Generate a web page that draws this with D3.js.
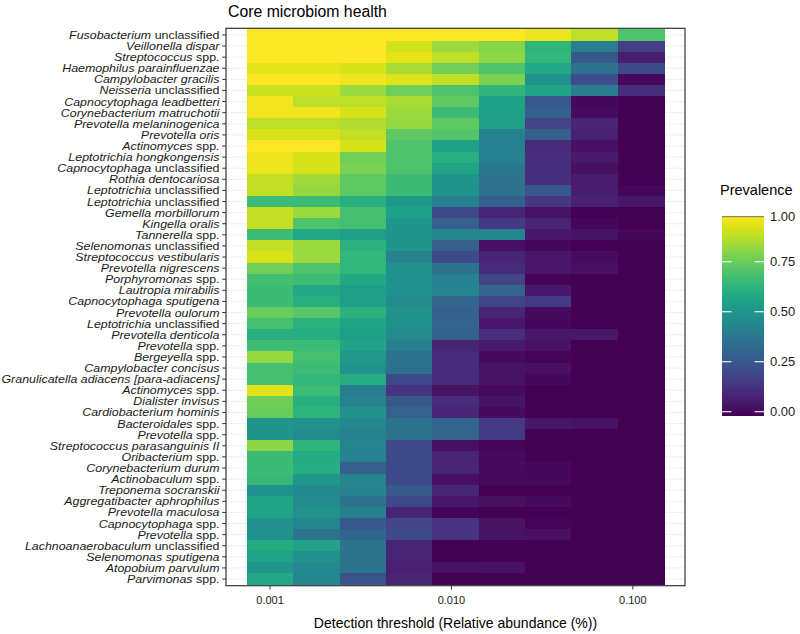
<!DOCTYPE html>
<html><head><meta charset="utf-8">
<script src="https://cdn.jsdelivr.net/npm/d3@7"></script>
<style>body{margin:0;background:#fff;} svg{display:block;font-family:"Liberation Sans",Arial,Helvetica,sans-serif;}</style>
</head><body><svg id="chart" width="800" height="634"></svg>
<script>
// Taxa (top to bottom); *...* marks italic text
const taxa = [
"*Fusobacterium* unclassified","*Veillonella dispar*","*Streptococcus* spp.","*Haemophilus parainfluenzae*",
"*Campylobacter gracilis*","*Neisseria* unclassified","*Capnocytophaga leadbetteri*","*Corynebacterium matruchotii*",
"*Prevotella melaninogenica*","*Prevotella oris*","*Actinomyces* spp.","*Leptotrichia hongkongensis*",
"*Capnocytophaga* unclassified","*Rothia dentocariosa*","*Leptotrichia* unclassified","*Leptotrichia* unclassified",
"*Gemella morbillorum*","*Kingella oralis*","*Tannerella* spp.","*Selenomonas* unclassified",
"*Streptococcus vestibularis*","*Prevotella nigrescens*","*Porphyromonas* spp.","*Lautropia mirabilis*",
"*Capnocytophaga sputigena*","*Prevotella oulorum*","*Leptotrichia* unclassified","*Prevotella denticola*",
"*Prevotella* spp.","*Bergeyella* spp.","*Campylobacter concisus*","*Granulicatella adiacens [para-adiacens]*",
"*Actinomyces* spp.","*Dialister invisus*","*Cardiobacterium hominis*","*Bacteroidales* spp.",
"*Prevotella* spp.","*Streptococcus parasanguinis II*","*Oribacterium* spp.","*Corynebacterium durum*",
"*Actinobaculum* spp.","*Treponema socranskii*","*Aggregatibacter aphrophilus*","*Prevotella maculosa*",
"*Capnocytophaga* spp.","*Prevotella* spp.","*Lachnoanaerobaculum* unclassified","*Selenomonas sputigena*",
"*Atopobium parvulum*","*Parvimonas* spp."
];

// Detection thresholds (relative abundance, %)
const detections = [0.00100, 0.00180, 0.00325, 0.00585, 0.01053, 0.01897, 0.03417, 0.06155, 0.11085];
const xTicks = [0.001, 0.01, 0.1];
const xTickLabels = ["0.001", "0.010", "0.100"];
const legendBreaks = [0, 0.25, 0.5, 0.75, 1];
const legendLabels = ["0.00", "0.25", "0.50", "0.75", "1.00"];

// Prevalence per detection threshold (one value per taxon, same order as taxa)
const prev_d1 = [1.00,1.00,1.00,0.96,1.00,0.92,0.98,0.98,0.90,0.94,1.00,0.97,0.97,0.91,0.91,0.68,0.91,0.91,0.69,0.91,0.94,0.78,0.70,0.68,0.68,0.77,0.70,0.63,0.69,0.84,0.70,0.70,0.95,0.78,0.77,0.52,0.52,0.83,0.68,0.68,0.67,0.51,0.58,0.58,0.51,0.51,0.61,0.58,0.52,0.60];
const prev_d2 = [1.00,1.00,1.00,0.96,1.00,0.92,0.90,0.98,0.90,0.94,1.00,0.94,0.94,0.86,0.84,0.68,0.85,0.72,0.60,0.85,0.85,0.72,0.69,0.60,0.63,0.74,0.64,0.62,0.68,0.70,0.68,0.66,0.68,0.63,0.65,0.50,0.48,0.65,0.61,0.62,0.53,0.47,0.48,0.50,0.46,0.38,0.58,0.51,0.47,0.46];
const prev_d3 = [1.00,1.00,1.00,0.94,0.98,0.85,0.90,0.94,0.88,0.91,0.94,0.78,0.80,0.75,0.75,0.63,0.70,0.70,0.56,0.64,0.66,0.66,0.60,0.56,0.56,0.64,0.58,0.56,0.58,0.53,0.51,0.62,0.42,0.44,0.50,0.46,0.44,0.45,0.44,0.30,0.45,0.44,0.38,0.43,0.28,0.32,0.38,0.38,0.38,0.25];
const prev_d4 = [1.00,0.93,0.96,0.87,0.95,0.78,0.87,0.85,0.84,0.75,0.72,0.72,0.72,0.68,0.68,0.53,0.57,0.52,0.52,0.52,0.44,0.50,0.50,0.50,0.48,0.50,0.50,0.48,0.43,0.38,0.37,0.22,0.15,0.27,0.31,0.38,0.38,0.22,0.22,0.22,0.22,0.27,0.22,0.10,0.21,0.22,0.10,0.10,0.09,0.10];
const prev_d5 = [1.00,0.85,0.90,0.78,0.91,0.72,0.75,0.68,0.75,0.73,0.56,0.63,0.58,0.52,0.51,0.43,0.22,0.30,0.45,0.30,0.22,0.38,0.44,0.45,0.32,0.30,0.32,0.30,0.10,0.12,0.12,0.12,0.05,0.12,0.10,0.32,0.32,0.04,0.10,0.10,0.04,0.10,0.06,0.01,0.15,0.15,0.00,0.00,0.05,0.00];
const prev_d6 = [1.00,0.82,0.83,0.72,0.80,0.65,0.57,0.56,0.56,0.43,0.43,0.43,0.40,0.38,0.37,0.30,0.10,0.17,0.45,0.04,0.10,0.12,0.20,0.32,0.20,0.10,0.06,0.13,0.07,0.03,0.05,0.05,0.03,0.05,0.03,0.17,0.17,0.01,0.02,0.03,0.02,0.00,0.04,0.00,0.05,0.05,0.00,0.00,0.04,0.00];
const prev_d7 = [0.97,0.65,0.66,0.60,0.50,0.58,0.27,0.30,0.20,0.30,0.12,0.13,0.13,0.13,0.27,0.16,0.05,0.10,0.06,0.02,0.06,0.06,0.01,0.06,0.17,0.03,0.02,0.06,0.05,0.01,0.04,0.02,0.00,0.00,0.00,0.06,0.00,0.00,0.00,0.02,0.02,0.00,0.03,0.00,0.01,0.04,0.00,0.00,0.00,0.00];
const prev_d8 = [0.90,0.42,0.27,0.37,0.23,0.42,0.02,0.03,0.10,0.09,0.04,0.07,0.04,0.08,0.08,0.09,0.00,0.02,0.05,0.00,0.03,0.04,0.00,0.00,0.00,0.00,0.00,0.06,0.00,0.00,0.00,0.00,0.00,0.00,0.00,0.05,0.00,0.00,0.00,0.00,0.00,0.00,0.00,0.00,0.00,0.00,0.00,0.00,0.00,0.00];
const prev_d9 = [0.72,0.18,0.08,0.22,0.02,0.13,0.00,0.00,0.00,0.00,0.00,0.00,0.00,0.00,0.02,0.06,0.00,0.00,0.02,0.00,0.00,0.00,0.00,0.00,0.00,0.00,0.00,0.00,0.00,0.00,0.00,0.00,0.00,0.00,0.00,0.00,0.00,0.00,0.00,0.00,0.00,0.00,0.00,0.00,0.00,0.00,0.00,0.00,0.00,0.00];
const prevalenceByDetection = [prev_d1, prev_d2, prev_d3, prev_d4, prev_d5, prev_d6, prev_d7, prev_d8, prev_d9];

const cells = [];
detections.forEach((d, j) => {
  prevalenceByDetection[j].forEach((v, i) => cells.push({row: i, col: j, det: d, value: v}));
});

const svg = d3.select("#chart");
const panel = {left: 226, right: 685, top: 28.3, bottom: 585.7};

// tile extents in log space (geometric midpoints between thresholds)
const logD = detections.map(Math.log10);
const halfStep = (logD[logD.length - 1] - logD[0]) / (logD.length - 1) / 2;
const lo = logD[0] - halfStep, hi = logD[logD.length - 1] + halfStep;
const expand = (hi - lo) * 0.05;
const x = d3.scaleLog().domain([Math.pow(10, lo - expand), Math.pow(10, hi + expand)]).range([panel.left, panel.right]);
const y = d3.scaleBand().domain(d3.range(taxa.length)).range([panel.top, panel.bottom]).paddingInner(0).paddingOuter(0.1);
const color = d3.scaleSequential(d3.interpolateViridis).domain([0, 1]);

// panel background
svg.append("rect").attr("x", panel.left).attr("y", panel.top)
  .attr("width", panel.right - panel.left).attr("height", panel.bottom - panel.top).attr("fill", "#fff");

// grid lines
svg.append("g").selectAll("line").data(d3.range(taxa.length)).join("line")
  .attr("x1", panel.left).attr("x2", panel.right)
  .attr("y1", i => y(i) + y.bandwidth() / 2).attr("y2", i => y(i) + y.bandwidth() / 2)
  .attr("stroke", "#ebebeb").attr("stroke-width", 0.8);
svg.append("g").selectAll("line").data(xTicks).join("line")
  .attr("x1", d => x(d)).attr("x2", d => x(d)).attr("y1", panel.top).attr("y2", panel.bottom)
  .attr("stroke", "#ebebeb").attr("stroke-width", 0.8);

// tiles
svg.append("g").attr("shape-rendering", "crispEdges").selectAll("rect").data(cells).join("rect")
  .attr("x", d => x(Math.pow(10, Math.log10(d.det) - halfStep)))
  .attr("width", d => x(Math.pow(10, Math.log10(d.det) + halfStep)) - x(Math.pow(10, Math.log10(d.det) - halfStep)) + 0.5)
  .attr("y", d => y(d.row))
  .attr("height", y.bandwidth() + 0.5)
  .attr("fill", d => color(d.value));

// panel border
svg.append("rect").attr("x", panel.left).attr("y", panel.top)
  .attr("width", panel.right - panel.left).attr("height", panel.bottom - panel.top)
  .attr("fill", "none").attr("stroke", "#333").attr("stroke-width", 1.2);

// y axis
const yg = svg.append("g");
yg.selectAll("line").data(d3.range(taxa.length)).join("line")
  .attr("x1", panel.left - 3.8).attr("x2", panel.left)
  .attr("y1", i => y(i) + y.bandwidth() / 2).attr("y2", i => y(i) + y.bandwidth() / 2)
  .attr("stroke", "#333").attr("stroke-width", 1);
const labels = yg.selectAll("text").data(taxa).join("text")
  .attr("x", 0).attr("y", 0)
  .attr("transform", (t, i) => `translate(${panel.left - 6.5},${y(i) + y.bandwidth() / 2}) scale(1.12,1)`)
  .attr("dy", "0.36em").attr("text-anchor", "end")
  .attr("font-size", "11.1px").attr("fill", "#1a1a1a");
labels.each(function(t) {
  const parts = t.split("*");
  const el = d3.select(this);
  parts.forEach((p, k) => {
    if (p === "") return;
    el.append("tspan").text(p).attr("font-style", k % 2 === 1 ? "italic" : "normal");
  });
});

// x axis
const xg = svg.append("g");
xg.selectAll("line").data(xTicks).join("line")
  .attr("x1", d => x(d)).attr("x2", d => x(d))
  .attr("y1", panel.bottom).attr("y2", panel.bottom + 3.8)
  .attr("stroke", "#333").attr("stroke-width", 1);
xg.selectAll("text").data(xTicks).join("text")
  .attr("x", d => x(d)).attr("y", panel.bottom + 17.8)
  .attr("text-anchor", "middle").attr("font-size", "11px").attr("fill", "#1a1a1a")
  .text((d, i) => xTickLabels[i]);

svg.append("text").attr("x", (panel.left + panel.right) / 2).attr("y", 628)
  .attr("text-anchor", "middle").attr("font-size", "14px").attr("fill", "#000")
  .text("Detection threshold (Relative abundance (%))");

// title
svg.append("text").attr("x", panel.left + 2).attr("y", 16.5)
  .attr("font-size", "15.8px").attr("fill", "#000").text("Core microbiom health");

// legend
const leg = {x: 722, w: 42, top: 216, bottom: 416};
const ly = d3.scaleLinear().domain([0, 1]).range([411.7, 211.7]);
const defs = svg.append("defs");
const grad = defs.append("linearGradient").attr("id", "vgrad").attr("x1", 0).attr("x2", 0).attr("y1", 1).attr("y2", 0);
d3.range(0, 1.0001, 0.05).forEach(t => grad.append("stop").attr("offset", t).attr("stop-color", color(t)));
svg.append("rect").attr("x", leg.x).attr("y", leg.top).attr("width", leg.w).attr("height", leg.bottom - leg.top)
  .attr("fill", "url(#vgrad)");
svg.append("text").attr("x", 720).attr("y", 195).attr("font-size", "14.5px").attr("fill", "#000").text("Prevalence");
legendBreaks.forEach((b, i) => {
  const yy = Math.max(ly(b), leg.top + 0.6);
  if (b === 1) {
    svg.append("line").attr("x1", leg.x).attr("x2", leg.x + leg.w).attr("y1", yy).attr("y2", yy)
      .attr("stroke", "#8c8a55").attr("stroke-width", 1.3);
  } else {
    svg.append("line").attr("x1", leg.x).attr("x2", leg.x + 9.5).attr("y1", yy).attr("y2", yy)
      .attr("stroke", "#fff").attr("stroke-width", 1.2).attr("opacity", 0.9);
    svg.append("line").attr("x1", leg.x + leg.w - 9.5).attr("x2", leg.x + leg.w).attr("y1", yy).attr("y2", yy)
      .attr("stroke", "#fff").attr("stroke-width", 1.2).attr("opacity", 0.9);
  }
  svg.append("text").attr("x", 770).attr("y", yy).attr("dy", "0.35em")
    .attr("font-size", "13px").attr("fill", "#1a1a1a").text(legendLabels[i]);
});
</script>
</body></html>
